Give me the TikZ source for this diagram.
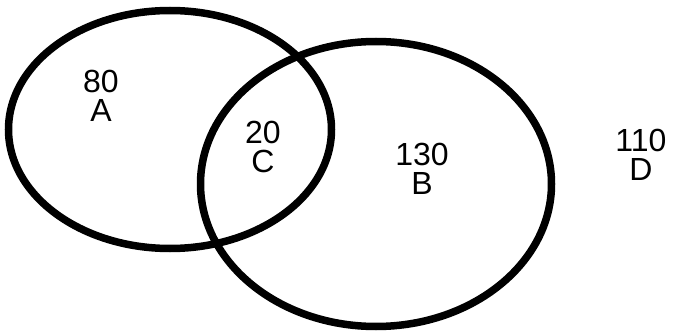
\documentclass[tikz,border=0pt]{standalone}
\usepackage{fontspec}
\setmainfont{Liberation Sans}
\begin{document}
\begin{tikzpicture}[x=1pt,y=1pt,
  setline/.style={draw=black,line width=7.5pt},
  lbl/.style={align=center,font=\fontsize{32}{29.5}\selectfont,inner sep=0pt}]
\useasboundingbox (0,0) rectangle (681,333);
\draw[setline] (170,203.5) ellipse [x radius=161.5, y radius=119];
\draw[setline] (376,149) ellipse [x radius=175.5, y radius=142.5];
\node[lbl] (a) at (101,237) {80\\A};
\node[lbl] (c) at (263,186) {20\\C};
\node[lbl] (b) at (422,164) {130\\B};
\node[lbl] (d) at (641,178) {110\\D};
\end{tikzpicture}
\end{document}
